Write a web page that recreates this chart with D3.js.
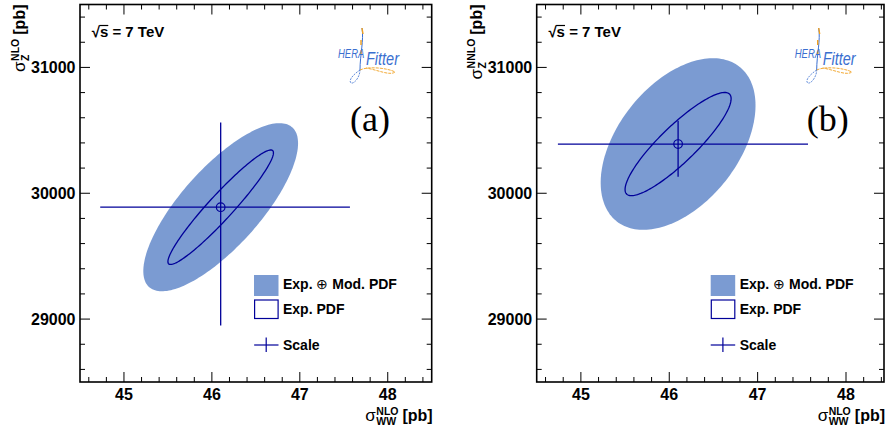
<!DOCTYPE html>
<html>
<head>
<meta charset="utf-8">
<script src="https://cdn.jsdelivr.net/npm/d3@7/dist/d3.min.js"></script>
<style>
body { margin: 0; background: #fff; }
text { font-family: "Liberation Sans", Arial, Helvetica, sans-serif; }
</style>
</head>
<body>
<svg id="chart" width="891" height="432"></svg>
<script>
var width = 891, height = 432;

// one entry per panel
var panelTags = ["(a)", "(b)"];
var zOrders = ["NLO", "NNLO"];
var frameLeft = [80, 536.7];
var frameRight = [431.7, 884];
var wwDomain = [[44.5, 48.5], [44.5, 48.43]];
var zDomain = [28500, 31500];
var wwTicks = [45, 46, 47, 48];
var zTicks = [29000, 30000, 31000];

var centreWW = [46.10, 46.10];
var centreZ = [29889, 30391];
// Exp. (+) Mod. PDF, filled ellipse
var outerSigWW = [0.88, 0.876];
var outerSigZ = [668, 682];
var outerRho = [0.76, 0.45];
// Exp. PDF, open ellipse
var innerSigWW = [0.60, 0.60];
var innerSigZ = [455, 410];
var innerRho = [0.95, 0.88];
// scale variation
var scaleWW = [[44.73, 47.57], [44.74, 47.57]];
var scaleZ = [[28950, 30563], [30131, 30576]];

var legendLabels = [["Exp. ", "\u2295", " Mod. PDF"], ["Exp. PDF"], ["Scale"]];

var fillBlue = "#7b9bd2";
var lineBlue = "#000099";
var frameTop = 4.5, frameBottom = 382;

var svg = d3.select("#chart");

// greek symbol with stacked super/subscript, right aligned at x=0
function sigmaTitle(g, sub, sup) {
    var s = g.append("text").attr("font-size", 17).text("\u03c3");
    var w = s.node().getComputedTextLength();
    var up = g.append("text").attr("x", w + 0.5).attr("y", -6.5)
        .attr("font-size", 10.5).attr("font-weight", "bold").text(sup);
    var dn = g.append("text").attr("x", w + 0.5).attr("y", 4)
        .attr("font-size", 10.5).attr("font-weight", "bold").text(sub);
    var w2 = w + 0.5 + Math.max(up.node().getComputedTextLength(), dn.node().getComputedTextLength()) + 4;
    var pb = g.append("text").attr("x", w2).attr("font-size", 16)
        .attr("font-weight", "bold").text("[pb]");
    var total = w2 + pb.node().getComputedTextLength();
    g.selectAll("text").attr("transform", "translate(" + (-total) + ",0)");
}

function drawPanel(i) {
    var L = frameLeft[i], R = frameRight[i];
    var x = d3.scaleLinear().domain(wwDomain[i]).range([L, R]);
    var y = d3.scaleLinear().domain(zDomain).range([frameBottom, frameTop]);
    var g = svg.append("g");

    // ellipses
    var angles = d3.range(0, 361, 2).map(function(a) { return a * Math.PI / 180; });
    function ellipse(sx, sy, rho) {
        return d3.line()
            .x(function(t) { return x(centreWW[i] + sx * Math.cos(t)); })
            .y(function(t) { return y(centreZ[i] + sy * (rho * Math.cos(t) + Math.sqrt(1 - rho * rho) * Math.sin(t))); })
            (angles) + "Z";
    }
    g.append("path").attr("d", ellipse(outerSigWW[i], outerSigZ[i], outerRho[i]))
        .attr("fill", fillBlue);
    g.append("path").attr("d", ellipse(innerSigWW[i], innerSigZ[i], innerRho[i]))
        .attr("fill", "none").attr("stroke", lineBlue).attr("stroke-width", 1.3);

    // scale cross
    g.append("line").attr("x1", x(scaleWW[i][0])).attr("x2", x(scaleWW[i][1]))
        .attr("y1", y(centreZ[i])).attr("y2", y(centreZ[i]))
        .attr("stroke", lineBlue).attr("stroke-width", 1.3);
    g.append("line").attr("x1", x(centreWW[i])).attr("x2", x(centreWW[i]))
        .attr("y1", y(scaleZ[i][0])).attr("y2", y(scaleZ[i][1]))
        .attr("stroke", lineBlue).attr("stroke-width", 1.3);
    g.append("circle").attr("cx", x(centreWW[i])).attr("cy", y(centreZ[i])).attr("r", 4.3)
        .attr("fill", "none").attr("stroke", lineBlue).attr("stroke-width", 1.2);

    // frame and ticks (ROOT style, all four sides)
    g.append("rect").attr("x", L).attr("y", frameTop).attr("width", R - L)
        .attr("height", frameBottom - frameTop).attr("fill", "none")
        .attr("stroke", "#000").attr("stroke-width", 1.6);

    var xMinor = d3.range(44.6, wwDomain[i][1], 0.2).filter(function(v) {
        return Math.abs(v - Math.round(v)) > 0.01; });
    var yMinor = d3.range(28600, 31500, 200).filter(function(v) { return v % 1000 != 0; });
    var ticks = g.append("g").attr("stroke", "#000").attr("stroke-width", 1);
    function xt(v, len) {
        ticks.append("line").attr("x1", x(v)).attr("x2", x(v)).attr("y1", frameBottom).attr("y2", frameBottom - len);
        ticks.append("line").attr("x1", x(v)).attr("x2", x(v)).attr("y1", frameTop).attr("y2", frameTop + len);
    }
    function yt(v, len) {
        ticks.append("line").attr("y1", y(v)).attr("y2", y(v)).attr("x1", L).attr("x2", L + len);
        ticks.append("line").attr("y1", y(v)).attr("y2", y(v)).attr("x1", R).attr("x2", R - len);
    }
    wwTicks.forEach(function(v) { xt(v, 10); });
    xMinor.forEach(function(v) { xt(v, 5); });
    zTicks.forEach(function(v) { yt(v, 10); });
    yMinor.forEach(function(v) { yt(v, 5); });

    g.selectAll(".xl").data(wwTicks).enter().append("text")
        .attr("x", function(d) { return x(d); }).attr("y", 400)
        .attr("text-anchor", "middle").attr("font-size", 16).attr("font-weight", "bold")
        .text(function(d) { return d; });
    g.selectAll(".yl").data(zTicks).enter().append("text")
        .attr("x", L - 4.5).attr("y", function(d) { return y(d) + 6; })
        .attr("text-anchor", "end").attr("font-size", 16).attr("font-weight", "bold")
        .text(function(d) { return d; });

    // axis titles
    sigmaTitle(g.append("g").attr("transform", "translate(" + (R + 1) + ",421)"), "WW", "NLO");
    sigmaTitle(g.append("g").attr("transform", "translate(" + (L - 55) + "," + frameTop + ") rotate(-90)"), "Z", zOrders[i]);

    // sqrt(s) label
    var rs = g.append("text").attr("x", L + 11.7).attr("y", 37)
        .attr("font-size", 15).attr("font-weight", "bold").text("\u221as = 7 TeV");
    var s0 = rs.node().getStartPositionOfChar(1).x, s1 = rs.node().getEndPositionOfChar(1).x;
    g.append("line").attr("x1", s0 - 0.5).attr("x2", s1).attr("y1", 25.5).attr("y2", 25.5)
        .attr("stroke", "#000").attr("stroke-width", 1.2);

    // panel tag
    g.append("text").attr("x", L + 270).attr("y", 131)
        .style("font-family", "'Liberation Serif', 'Times New Roman', serif").attr("font-size", 36)
        .text(panelTags[i]);

    // HERAFitter logo (rough)
    var lg = g.append("g").attr("transform", "translate(" + (L + 258) + ",0)");
    lg.append("path").attr("d", "M24,28 C26,40 22,55 22,70")
        .attr("fill", "none").attr("stroke", "#3a6fd0").attr("stroke-width", 1);
    lg.append("path").attr("d", "M24,28 l1,6 M23,40 l0,5 M23,50 l0,4")
        .attr("fill", "none").attr("stroke", "#f0a020").attr("stroke-width", 1.4);
    lg.append("path").attr("d", "M22,70 C16,74 10,80 13,83 C17,84 22,76 22,70")
        .attr("fill", "none").attr("stroke", "#3a6fd0").attr("stroke-width", 0.8).attr("stroke-dasharray", "2,1");
    lg.append("path").attr("d", "M22,70 C30,66 50,68 57,72 C52,76 40,70 28,68")
        .attr("fill", "none").attr("stroke", "#f0a020").attr("stroke-width", 0.9).attr("stroke-dasharray", "3,1");
    lg.append("text").attr("transform", "translate(0,58) scale(0.95,1.25)")
        .attr("font-size", 10).attr("font-style", "italic").attr("fill", "#3a6fd0").text("HERA");
    lg.append("text").attr("x", 28).attr("y", 64.5).attr("font-size", 19).attr("font-style", "italic")
        .attr("fill", "#3a6fd0").attr("textLength", 33).attr("lengthAdjust", "spacingAndGlyphs").text("Fitter");

    // legend
    var lx = L + 174;
    g.append("rect").attr("x", lx).attr("y", 275).attr("width", 24.5).attr("height", 21).attr("fill", fillBlue);
    g.append("rect").attr("x", lx + 0.6).attr("y", 300).attr("width", 23.5).attr("height", 18.5)
        .attr("fill", "none").attr("stroke", lineBlue).attr("stroke-width", 1.2);
    g.append("line").attr("x1", lx).attr("x2", lx + 24.5).attr("y1", 345).attr("y2", 345)
        .attr("stroke", lineBlue).attr("stroke-width", 1.2);
    g.append("line").attr("x1", lx + 12.2).attr("x2", lx + 12.2).attr("y1", 337.5).attr("y2", 352)
        .attr("stroke", lineBlue).attr("stroke-width", 1.2);
    var ly = [288.5, 314, 350];
    legendLabels.forEach(function(parts, k) {
        var t = g.append("text").attr("x", lx + 29).attr("y", ly[k]).attr("font-size", 14)
            .attr("font-weight", "bold");
        parts.forEach(function(p) {
            t.append("tspan").attr("font-weight", p == "\u2295" ? "normal" : "bold").text(p);
        });
    });
}

drawPanel(0);
drawPanel(1);
</script>
</body>
</html>
